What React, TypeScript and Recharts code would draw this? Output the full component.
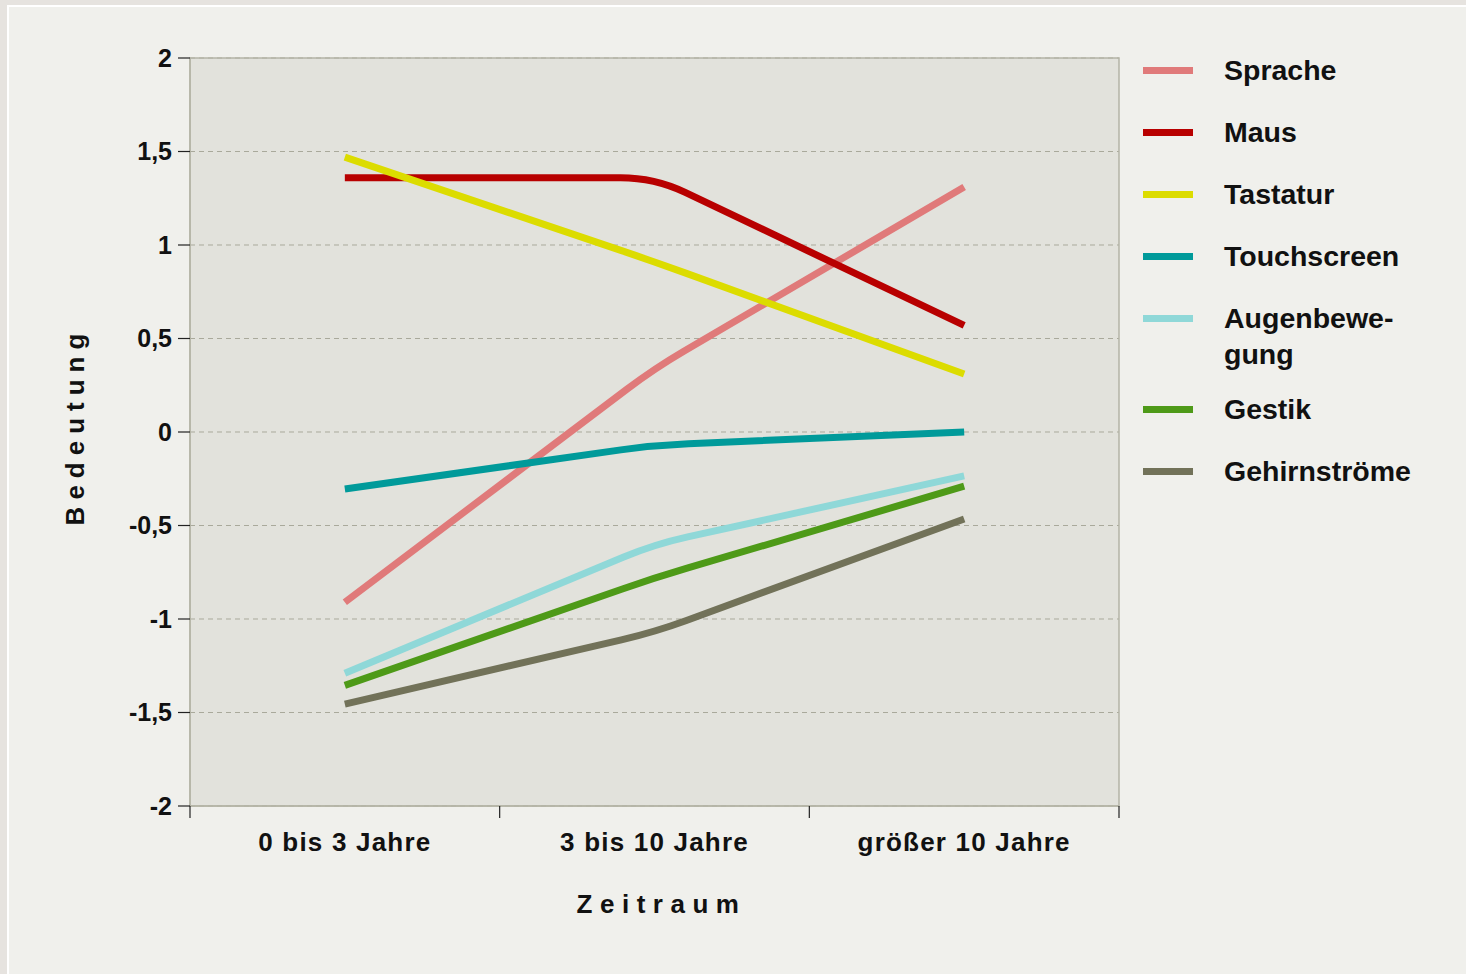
import React from "react";
import {
  CartesianGrid,
  Line,
  LineChart,
  ReferenceArea,
  XAxis,
  YAxis,
} from "recharts";

const categories = ["0 bis 3 Jahre", "3 bis 10 Jahre", "größer 10 Jahre"];
const seriesNames = [
  "Sprache",
  "Maus",
  "Tastatur",
  "Touchscreen",
  "Augenbewegung",
  "Gestik",
  "Gehirnströme",
];
const legendLabels = [
  "Sprache",
  "Maus",
  "Tastatur",
  "Touchscreen",
  "Augenbewe-\ngung",
  "Gestik",
  "Gehirnströme",
];
const seriesColors = [
  "#e07a7a",
  "#b80000",
  "#dcdc00",
  "#009a9a",
  "#8fd8d8",
  "#4e9a18",
  "#727259",
];
const sprache = [-0.91, 0.34, 1.31];
const maus = [1.36, 1.36, 0.57];
const tastatur = [1.47, 0.91, 0.31];
const touchscreen = [-0.305, -0.07, 0.0];
const augenbewegung = [-1.29, -0.6, -0.235];
const gestik = [-1.355, -0.78, -0.29];
const gehirnstroeme = [-1.455, -1.07, -0.465];
const seriesValues = [sprache, maus, tastatur, touchscreen, augenbewegung, gestik, gehirnstroeme];
const yTicks = [-2, -1.5, -1, -0.5, 0, 0.5, 1, 1.5, 2];

const FONT = "'Liberation Sans', Arial, Helvetica, sans-serif";

const data = categories.map((cat, i) => {
  const row: Record<string, number | string> = { x: i + 0.5, name: cat };
  seriesNames.forEach((s, j) => {
    row[s] = seriesValues[j][i];
  });
  return row;
});

const xTicks: number[] = [];
for (let i = 0; i <= categories.length; i++) {
  xTicks.push(i);
  if (i < categories.length) xTicks.push(i + 0.5);
}

// straight segments with slightly rounded joins, like the original
function roundedLinear(context: any) {
  let pts: [number, number][] = [];
  const R = 34;
  return {
    areaStart() {},
    areaEnd() {},
    lineStart() {
      pts = [];
    },
    point(x: number, y: number) {
      pts.push([+x, +y]);
    },
    lineEnd() {
      if (!pts.length) return;
      context.moveTo(pts[0][0], pts[0][1]);
      for (let i = 1; i < pts.length - 1; i++) {
        const [px, py] = pts[i - 1];
        const [cx, cy] = pts[i];
        const [nx, ny] = pts[i + 1];
        const d1 = Math.hypot(cx - px, cy - py);
        const d2 = Math.hypot(nx - cx, ny - cy);
        const r1 = Math.min(R, d1 / 2);
        const r2 = Math.min(R, d2 / 2);
        context.lineTo(cx - ((cx - px) / d1) * r1, cy - ((cy - py) / d1) * r1);
        context.quadraticCurveTo(cx, cy, cx + ((nx - cx) / d2) * r2, cy + ((ny - cy) / d2) * r2);
      }
      const last = pts[pts.length - 1];
      if (pts.length > 1) context.lineTo(last[0], last[1]);
    },
  };
}

function XTick(props: any) {
  const { x, y, payload } = props;
  const v = payload.value as number;
  if (Number.isInteger(v)) {
    return <line x1={x} x2={x} y1={y} y2={y + 12} stroke="#222" strokeWidth={1.2} />;
  }
  return (
    <text
      x={x}
      y={y + 45}
      textAnchor="middle"
      fontFamily={FONT}
      fontWeight="bold"
      fontSize={26}
      letterSpacing={1.2}
      fill="#111"
    >
      {categories[Math.floor(v)]}
    </text>
  );
}

function YLabel(props: any) {
  const { viewBox } = props;
  const cx = viewBox.x + 15;
  const cy = viewBox.y + viewBox.height / 2 - 6;
  return (
    <text
      x={cx}
      y={cy}
      transform={`rotate(-90 ${cx} ${cy})`}
      textAnchor="middle"
      dominantBaseline="central"
      fontFamily={FONT}
      fontWeight="bold"
      fontSize={26}
      letterSpacing={7}
      fill="#111"
    >
      Bedeutung
    </text>
  );
}

function XLabel(props: any) {
  const { viewBox } = props;
  return (
    <text
      x={viewBox.x + viewBox.width / 2 + 7}
      y={viewBox.y + 107}
      textAnchor="middle"
      fontFamily={FONT}
      fontWeight="bold"
      fontSize={26}
      letterSpacing={7.5}
      fill="#111"
    >
      Zeitraum
    </text>
  );
}

function LegendBox() {
  return (
    <div style={{ position: "absolute", left: 1143, top: 52, fontFamily: FONT }}>
      {legendLabels.map((label, i) => {
        const lines = label.split("\n");
        return (
          <div
            key={label}
            style={{
              display: "flex",
              alignItems: "flex-start",
              height: lines.length > 1 ? 91 : 62,
            }}
          >
            <div
              style={{
                width: 50,
                height: 7,
                marginTop: 15,
                background: seriesColors[i],
              }}
            />
            <div
              style={{
                marginLeft: 31,
                fontSize: 28.5,
                fontWeight: "bold",
                lineHeight: "36px",
                color: "#111",
                whiteSpace: "pre",
              }}
            >
              {label}
            </div>
          </div>
        );
      })}
    </div>
  );
}

export default function App() {
  return (
    <div
      style={{
        position: "absolute",
        left: 0,
        top: 0,
        width: 1466,
        height: 974,
        background: "#e6e3df",
        overflow: "hidden",
      }}
    >
      <div
        style={{
          position: "absolute",
          left: 7,
          top: 5,
          width: 1466,
          height: 974,
          background: "#f0f0ec",
          borderLeft: "2px solid #ffffff",
          borderTop: "2px solid #ffffff",
        }}
      />
      <div style={{ position: "absolute", left: 0, top: 0 }}>
        <LineChart
          width={1466}
          height={974}
          data={data}
          margin={{ top: 58, right: 347, bottom: 48, left: 60 }}
        >
          <CartesianGrid
            vertical={false}
            stroke="#a9a99b"
            strokeDasharray="5 4"
            fill="#e2e2dc"
          />
          <ReferenceArea
            x1={0}
            x2={3}
            y1={-2}
            y2={2}
            fill="none"
            stroke="#b4b4a6"
            strokeWidth={1.5}
            ifOverflow="visible"
          />
          <XAxis
            dataKey="x"
            type="number"
            domain={[0, 3]}
            ticks={xTicks}
            interval={0}
            height={120}
            tickSize={0}
            tickMargin={0}
            tickLine={false}
            axisLine={{ stroke: "#b4b4a6", strokeWidth: 1.5 }}
            tick={<XTick />}
            label={<XLabel />}
          />
          <YAxis
            type="number"
            domain={[-2, 2]}
            ticks={yTicks}
            interval={0}
            width={130}
            tickSize={12}
            tickMargin={6}
            axisLine={{ stroke: "#b4b4a6", strokeWidth: 1.5 }}
            tickLine={{ stroke: "#222", strokeWidth: 1.2 }}
            tickFormatter={(v: number) => String(v).replace(".", ",")}
            tick={{
              fill: "#111",
              fontFamily: FONT,
              fontWeight: "bold",
              fontSize: 25,
            }}
            label={<YLabel />}
          />
          {seriesNames.map((s, i) => (
            <Line
              key={s}
              type={roundedLinear as any}
              dataKey={s}
              stroke={seriesColors[i]}
              strokeWidth={7}
              dot={false}
              activeDot={false}
              isAnimationActive={false}
            />
          ))}
        </LineChart>
      </div>
      <LegendBox />
    </div>
  );
}
